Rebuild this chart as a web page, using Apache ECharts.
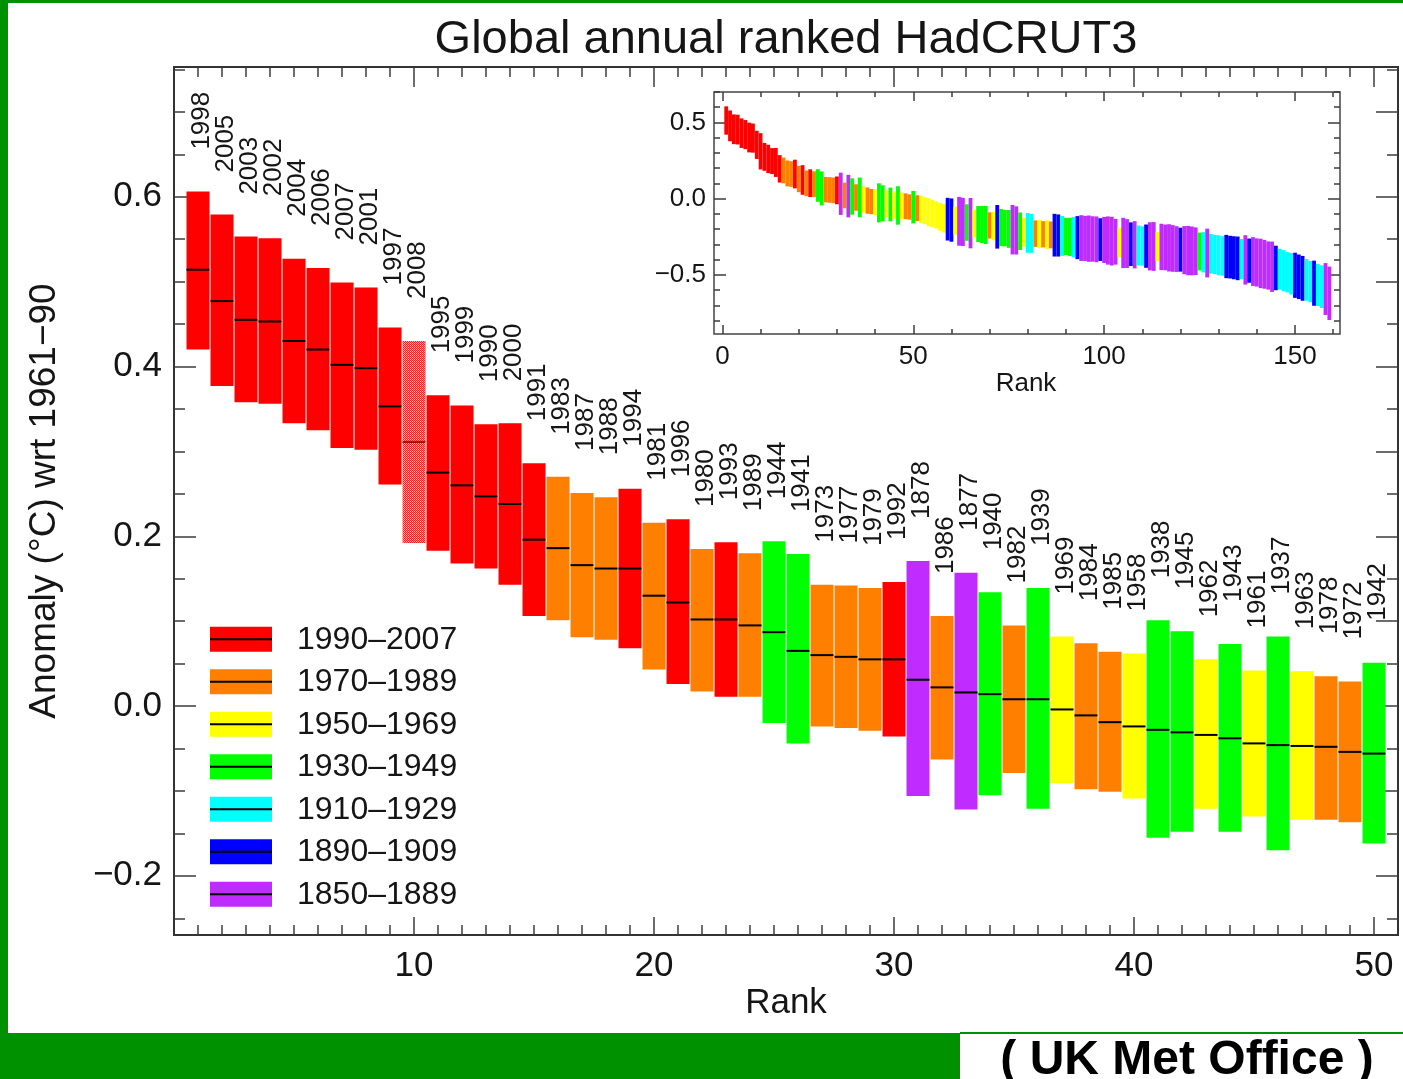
<!DOCTYPE html>
<html>
<head>
<meta charset="utf-8">
<title>Global annual ranked HadCRUT3</title>
<script src="https://cdn.jsdelivr.net/npm/echarts@6/dist/echarts.min.js"></script>
<style>
  html, body { margin: 0; padding: 0; background: #fff; }
  #chart { width: 1403px; height: 1079px; }
</style>
</head>
<body>
<div id="chart"></div>
<script>
// ---- Ranks 1-50: year, best estimate and uncertainty range (°C, wrt 1961-90) ----
const rankYears = [1998, 2005, 2003, 2002, 2004, 2006, 2007, 2001, 1997, 2008,
                   1995, 1999, 1990, 2000, 1991, 1983, 1987, 1988, 1994, 1981,
                   1996, 1980, 1993, 1989, 1944, 1941, 1973, 1977, 1979, 1992,
                   1878, 1986, 1877, 1940, 1982, 1939, 1969, 1984, 1985, 1958,
                   1938, 1945, 1962, 1943, 1961, 1937, 1963, 1978, 1972, 1942];
const bestEstimate = [0.514, 0.477, 0.455, 0.453, 0.430, 0.420, 0.402, 0.398, 0.353, 0.311,
                      0.275, 0.260, 0.247, 0.238, 0.196, 0.186, 0.166, 0.162, 0.162, 0.130,
                      0.122, 0.102, 0.102, 0.095, 0.087, 0.065, 0.060, 0.058, 0.055, 0.055,
                      0.031, 0.022, 0.016, 0.014, 0.008, 0.008, -0.004, -0.011, -0.019, -0.024,
                      -0.028, -0.031, -0.034, -0.038, -0.044, -0.046, -0.047, -0.048, -0.054, -0.056];
const upperBound = [0.606, 0.579, 0.553, 0.551, 0.527, 0.516, 0.499, 0.493, 0.446, 0.430,
                    0.366, 0.354, 0.332, 0.333, 0.286, 0.270, 0.251, 0.246, 0.256, 0.216,
                    0.220, 0.185, 0.193, 0.180, 0.194, 0.179, 0.143, 0.142, 0.139, 0.146,
                    0.171, 0.106, 0.157, 0.134, 0.095, 0.139, 0.082, 0.074, 0.064, 0.062,
                    0.101, 0.088, 0.055, 0.073, 0.042, 0.082, 0.041, 0.035, 0.029, 0.051];
const lowerBound = [0.420, 0.377, 0.358, 0.356, 0.333, 0.325, 0.304, 0.302, 0.261, 0.192,
                    0.183, 0.168, 0.162, 0.143, 0.106, 0.101, 0.081, 0.078, 0.068, 0.043,
                    0.026, 0.017, 0.011, 0.011, -0.020, -0.044, -0.024, -0.026, -0.029, -0.036,
                    -0.106, -0.063, -0.122, -0.105, -0.079, -0.121, -0.091, -0.098, -0.101, -0.109,
                    -0.155, -0.148, -0.121, -0.148, -0.130, -0.170, -0.134, -0.134, -0.137, -0.162];

// ---- Ranks 51-159 (full record, inset): period code, best estimate, half-range ----
const insetPeriod = ['O','Y','Y','Y','Y','Y','Y','Y','B','B',
                     'Y','P','P','G','P','Y','G','G','G','O',
                     'Y','B','G','G','G','P','P','G','Y','C',
                     'C','O','Y','O','Y','O','B','B','C','G',
                     'G','C','B','P','P','P','P','P','B','P',
                     'P','P','P','Y','P','P','B','P','C','C',
                     'B','P','P','Y','P','P','P','P','P','B',
                     'P','P','P','P','G','C','P','C','C','C',
                     'C','B','B','B','B','C','P','B','P','P',
                     'P','P','P','P','B','C','C','C','C','B',
                     'B','B','C','C','B','C','C','P','P'];
const insetCentre = [-0.062, -0.070, -0.078, -0.088, -0.097, -0.106, -0.118, -0.128, -0.134, -0.140,
                     -0.144, -0.148, -0.152, -0.156, -0.160, -0.163, -0.166, -0.169, -0.172, -0.175,
                     -0.179, -0.184, -0.189, -0.193, -0.198, -0.203, -0.208, -0.213, -0.219, -0.224,
                     -0.227, -0.229, -0.231, -0.233, -0.235, -0.237, -0.239, -0.241, -0.244, -0.247,
                     -0.250, -0.252, -0.255, -0.258, -0.260, -0.262, -0.264, -0.266, -0.268, -0.270,
                     -0.274, -0.278, -0.282, -0.286, -0.290, -0.294, -0.298, -0.302, -0.306, -0.310,
                     -0.311, -0.312, -0.313, -0.314, -0.316, -0.319, -0.322, -0.326, -0.330, -0.334,
                     -0.337, -0.340, -0.342, -0.344, -0.346, -0.351, -0.356, -0.361, -0.366, -0.371,
                     -0.375, -0.379, -0.383, -0.387, -0.391, -0.396, -0.401, -0.406, -0.412, -0.418,
                     -0.424, -0.430, -0.438, -0.446, -0.454, -0.462, -0.472, -0.482, -0.492, -0.502,
                     -0.512, -0.522, -0.532, -0.543, -0.554, -0.565, -0.577, -0.592, -0.620];
const insetSpread = [0.085, 0.090, 0.088, 0.092, 0.090, 0.089, 0.091, 0.093, 0.140, 0.142,
                     0.092, 0.160, 0.158, 0.120, 0.165, 0.091, 0.118, 0.121, 0.125, 0.086,
                     0.094, 0.143, 0.122, 0.119, 0.124, 0.162, 0.158, 0.123, 0.095, 0.130,
                     0.128, 0.087, 0.093, 0.086, 0.094, 0.088, 0.140, 0.138, 0.131, 0.122,
                     0.125, 0.133, 0.141, 0.150, 0.148, 0.152, 0.149, 0.150, 0.140, 0.151,
                     0.158, 0.160, 0.150, 0.096, 0.165, 0.160, 0.143, 0.155, 0.131, 0.129,
                     0.142, 0.158, 0.160, 0.095, 0.152, 0.150, 0.155, 0.153, 0.150, 0.144,
                     0.158, 0.162, 0.160, 0.156, 0.124, 0.132, 0.160, 0.130, 0.128, 0.131,
                     0.129, 0.142, 0.140, 0.141, 0.143, 0.132, 0.162, 0.145, 0.160, 0.158,
                     0.162, 0.160, 0.158, 0.165, 0.146, 0.134, 0.135, 0.132, 0.136, 0.148,
                     0.146, 0.147, 0.137, 0.135, 0.148, 0.138, 0.140, 0.170, 0.175];

// ---- Periods (legend) ----
const periodLabels = ['1990\u20132007', '1970\u20131989', '1950\u20131969', '1930\u20131949',
                      '1910\u20131929', '1890\u20131909', '1850\u20131889'];
const periodColors = ['#ff0000', '#ff8000', '#ffff00', '#00ff00', '#00ffff', '#0000ff', '#c02cff'];
const periodStart  = [1990, 1970, 1950, 1930, 1910, 1890, 1850];
const periodCodes  = ['R', 'O', 'Y', 'G', 'C', 'B', 'P'];
const provisionalYear = 2008;

// ---- Tick values ----
const mainXTicks   = [10, 20, 30, 40, 50];
const mainYTicks   = [-0.2, 0.0, 0.2, 0.4, 0.6];
const insetXTicks  = [0, 50, 100, 150];
const insetYTicks  = [-0.5, 0.0, 0.5];

function steps(a, b, s) {
  const out = [];
  for (let k = 0; a + k * s <= b + 1e-9; k++) out.push(+(a + k * s).toFixed(4));
  return out;
}
const mainXMinor      = steps(1, 50, 1);
const mainYMinor      = steps(-0.25, 0.75, 0.05);
const mainYRightMajor = steps(-0.2, 0.7, 0.1);
const insetXMinor     = steps(0, 160, 10);
const insetYMinor     = steps(-0.8, 0.7, 0.1);

// ---- helpers ----
const FONT = '"Liberation Sans", Arial, Helvetica, sans-serif';
const INK = '#151515';
const AXIS_INK = '#3c3c3c';
const FRAME_GREEN = '#009100';

function periodOfYear(y) {
  for (let i = 0; i < periodStart.length; i++) if (y >= periodStart[i]) return i;
  return periodStart.length - 1;
}
function fmtSigned(v) {
  const s = Math.abs(v).toFixed(1);
  return v < -1e-9 ? '\u2212' + s : s;
}

// dotted fill for the provisional (incomplete) year
const provisionalFill = (function () {
  const c = document.createElement('canvas');
  c.width = 2; c.height = 2;
  const g = c.getContext('2d');
  g.fillStyle = '#ffa4a4'; g.fillRect(0, 0, 2, 2);
  g.fillStyle = '#ff1c1c'; g.fillRect(0, 0, 1, 1); g.fillRect(1, 1, 1, 1);
  return { image: c, repeat: 'repeat' };
})();

// ---- series data ----
const mainData = rankYears.map((y, i) => [i + 1, lowerBound[i], bestEstimate[i], upperBound[i]]);

const insetData = [];
rankYears.forEach((y, i) => insetData.push([i + 1, lowerBound[i], upperBound[i], periodOfYear(y)]));
insetCentre.forEach((c, j) => insetData.push([51 + j, c - insetSpread[j], c + insetSpread[j],
                                             periodCodes.indexOf(insetPeriod[j])]));

// ---- axis builders ----
function xAxisDef(grid, pos, min, max, ticks, len, label) {
  return {
    type: 'value', gridIndex: grid, position: pos, min: min, max: max,
    axisLine: { show: false, onZero: false },
    splitLine: { show: false },
    axisTick: { show: true, inside: true, length: len, customValues: ticks,
                lineStyle: { color: AXIS_INK, width: 1.5 } },
    axisLabel: label ? Object.assign({ show: true, customValues: ticks }, label) : { show: false }
  };
}
function yAxisDef(grid, pos, min, max, ticks, len, label) {
  return {
    type: 'value', gridIndex: grid, position: pos, min: min, max: max,
    axisLine: { show: false, onZero: false },
    splitLine: { show: false },
    axisTick: { show: true, inside: true, length: len, customValues: ticks,
                lineStyle: { color: AXIS_INK, width: 1.5 } },
    axisLabel: label ? Object.assign({ show: true, customValues: ticks }, label) : { show: false }
  };
}

const MAIN_X = [0, 51], MAIN_Y = [-0.2697, 0.7528];
const INSET_X = [-2.2, 161.8], INSET_Y = [-0.887, 0.70];

const mainXLabel = { color: INK, fontFamily: FONT, fontSize: 35, margin: 14, formatter: v => String(v) };
const mainYLabel = { color: INK, fontFamily: FONT, fontSize: 35, margin: 12, formatter: fmtSigned };
const insetXLabel = { color: INK, fontFamily: FONT, fontSize: 26, margin: 10, formatter: v => String(v) };
const insetYLabel = { color: INK, fontFamily: FONT, fontSize: 26, margin: 8, formatter: fmtSigned };

const xAxes = [
  xAxisDef(0, 'bottom', MAIN_X[0], MAIN_X[1], mainXTicks, 18, mainXLabel),
  xAxisDef(0, 'bottom', MAIN_X[0], MAIN_X[1], mainXMinor, 10, null),
  xAxisDef(0, 'top', MAIN_X[0], MAIN_X[1], mainXTicks, 20, null),
  xAxisDef(0, 'top', MAIN_X[0], MAIN_X[1], mainXMinor, 10, null),
  xAxisDef(1, 'bottom', INSET_X[0], INSET_X[1], insetXTicks, 9, insetXLabel),
  xAxisDef(1, 'bottom', INSET_X[0], INSET_X[1], insetXMinor, 5, null),
  xAxisDef(1, 'top', INSET_X[0], INSET_X[1], insetXTicks, 9, null),
  xAxisDef(1, 'top', INSET_X[0], INSET_X[1], insetXMinor, 5, null)
];
const yAxes = [
  yAxisDef(0, 'left', MAIN_Y[0], MAIN_Y[1], mainYTicks, 22, mainYLabel),
  yAxisDef(0, 'left', MAIN_Y[0], MAIN_Y[1], mainYMinor, 11, null),
  yAxisDef(0, 'right', MAIN_Y[0], MAIN_Y[1], mainYRightMajor, 22, null),
  yAxisDef(0, 'right', MAIN_Y[0], MAIN_Y[1], mainYMinor, 11, null),
  yAxisDef(1, 'left', INSET_Y[0], INSET_Y[1], insetYTicks, 12, insetYLabel),
  yAxisDef(1, 'left', INSET_Y[0], INSET_Y[1], insetYMinor, 6, null),
  yAxisDef(1, 'right', INSET_Y[0], INSET_Y[1], insetYTicks, 12, null),
  yAxisDef(1, 'right', INSET_Y[0], INSET_Y[1], insetYMinor, 6, null)
];

// ---- renderers ----
function renderRanked(params, api) {
  const rank = api.value(0), lo = api.value(1), mid = api.value(2), hi = api.value(3);
  const year = rankYears[params.dataIndex];
  const provisional = year >= provisionalYear;
  const band = api.size([1, 0])[0];
  const bw = band - 1;
  const pTop = api.coord([rank, hi]);
  const pBot = api.coord([rank, lo]);
  const pMid = api.coord([rank, mid]);
  const x0 = pTop[0] - bw / 2;
  return {
    type: 'group',
    children: [
      { type: 'rect', shape: { x: x0, y: pTop[1], width: bw, height: pBot[1] - pTop[1] },
        style: { fill: provisional ? provisionalFill : periodColors[periodOfYear(year)] } },
      { type: 'line', shape: { x1: x0, y1: pMid[1], x2: x0 + bw, y2: pMid[1] },
        style: { stroke: provisional ? '#7a0000' : '#000', lineWidth: provisional ? 1.5 : 2 } },
      { type: 'text', x: pTop[0] + 4, y: pTop[1] - 42, rotation: Math.PI / 2,
        style: { text: String(year), fill: INK, font: '26px ' + FONT,
                 align: 'left', verticalAlign: 'middle',
                 textAlign: 'left', textVerticalAlign: 'middle' } }
    ]
  };
}

function renderInset(params, api) {
  const rank = api.value(0), lo = api.value(1), hi = api.value(2), p = api.value(3);
  const band = api.size([1, 0])[0];
  const pTop = api.coord([rank, hi]);
  const pBot = api.coord([rank, lo]);
  return {
    type: 'rect',
    shape: { x: pTop[0] - band / 2, y: pTop[1], width: band, height: pBot[1] - pTop[1] },
    style: { fill: periodColors[p] }
  };
}

// ---- legend, titles, frame ----
const legendItems = [];
periodLabels.forEach((label, i) => {
  const y = 626.7 + 42.5 * i;
  legendItems.push(
    { type: 'rect', shape: { x: 210, y: y, width: 62, height: 25 }, style: { fill: periodColors[i] } },
    { type: 'line', shape: { x1: 210, y1: y + 12.5, x2: 272, y2: y + 12.5 }, style: { stroke: '#000', lineWidth: 2 } },
    { type: 'text', x: 297, y: y + 13,
      style: { text: label, fill: INK, font: '32px ' + FONT,
               align: 'left', verticalAlign: 'middle', textAlign: 'left', textVerticalAlign: 'middle' } }
  );
});

function label(text, x, y, size, opts) {
  return Object.assign({
    type: 'text', x: x, y: y,
    style: { text: text, fill: INK, font: size + 'px ' + FONT,
             align: 'center', verticalAlign: 'middle', textAlign: 'center', textVerticalAlign: 'middle' }
  }, opts || {});
}

const option = {
  backgroundColor: '#ffffff',
  animation: false,
  grid: [
    { left: 174, top: 67, width: 1224, height: 868, show: true,
      borderColor: '#333', borderWidth: 2, backgroundColor: 'transparent' },
    { left: 714, top: 92, width: 626, height: 242, show: true,
      borderColor: '#444', borderWidth: 1.5, backgroundColor: '#ffffff' }
  ],
  xAxis: xAxes,
  yAxis: yAxes,
  series: [
    { type: 'custom', name: 'Ranked years', xAxisIndex: 0, yAxisIndex: 0,
      renderItem: renderRanked, data: mainData, clip: false, z: 3 },
    { type: 'custom', name: 'All years', xAxisIndex: 4, yAxisIndex: 4,
      renderItem: renderInset, data: insetData, clip: true, z: 3 }
  ],
  graphic: [
    { type: 'group', z: 20, children: [
      // green frame
      { type: 'rect', shape: { x: 0, y: 0, width: 8, height: 1079 }, style: { fill: FRAME_GREEN } },
      { type: 'rect', shape: { x: 0, y: 0, width: 1403, height: 3 }, style: { fill: FRAME_GREEN } },
      { type: 'rect', shape: { x: 0, y: 1033, width: 960, height: 46 }, style: { fill: FRAME_GREEN } },
      { type: 'rect', shape: { x: 960, y: 1032, width: 443, height: 2 }, style: { fill: FRAME_GREEN } },
      label('( UK Met Office )', 1187, 1061, 48,
            { style: { text: '( UK Met Office )', fill: '#000', font: 'bold 48px ' + FONT,
                       align: 'center', verticalAlign: 'middle', textAlign: 'center', textVerticalAlign: 'middle' } }),
      // titles
      label('Global annual ranked HadCRUT3', 786, 40, 47),
      label('Rank', 786, 1003, 35),
      label('Rank', 1026, 384, 26),
      label('Anomaly (\u00B0C) wrt 1961\u221290', 45, 501, 37, { rotation: Math.PI / 2 })
    ] },
    { type: 'group', z: 20, children: legendItems }
  ]
};

const chart = echarts.init(document.getElementById('chart'), null, { renderer: 'canvas' });
chart.setOption(option);
</script>
</body>
</html>
